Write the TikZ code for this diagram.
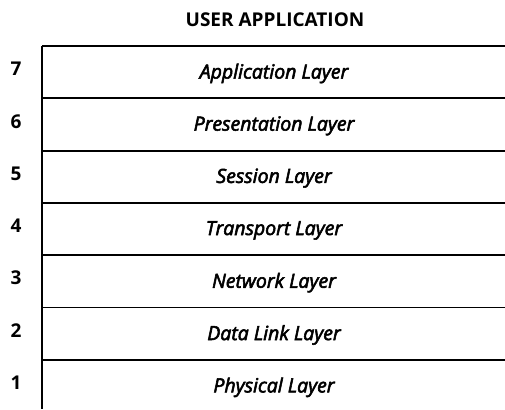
\documentclass[tikz,border=0pt]{standalone}
\usepackage{fontspec}
\setmainfont{Open Sans}
% slightly heavier italic: fill and stroke the glyph outlines
\newcommand{\heavytext}[1]{\special{pdf:literal 2 Tr 0.55 w}#1\special{pdf:literal 0 Tr}}
\begin{document}
\begin{tikzpicture}[x=1pt,y=-1pt,
  rule/.style={line width=1.8pt, black},
  layername/.style={font=\fontsize{19.5}{21}\selectfont\itshape, anchor=center, inner sep=0pt},
  layernum/.style={font=\fontsize{19}{21}\selectfont\bfseries, anchor=center, inner sep=0pt},
  heading/.style={font=\fontsize{19}{21}\selectfont\bfseries, anchor=center, inner sep=0pt}]
\useasboundingbox (0,0) rectangle (505,409);

\node[heading] (title) at (275,20) {USER APPLICATION};

% left edge of the stack, open at the bottom
\coordinate (top) at (42,46);
\coordinate (bottom) at (42,409);
\draw[line width=1.5pt] (top) -- (bottom);

% separating rules between the layers
\foreach \k in {0,...,6} {
  \coordinate (rl\k) at (42,46+52.3*\k);
  \coordinate (rr\k) at (505,46+52.3*\k);
  \draw[rule] (rl\k) -- (rr\k);
}

% layer numbers and names, top to bottom
\foreach \k/\n/\name in {0/7/Application Layer, 1/6/Presentation Layer,
    2/5/Session Layer, 3/4/Transport Layer, 4/3/Network Layer,
    5/2/Data Link Layer, 6/1/Physical Layer} {
  \node[layernum] (num\n) at (16,46+52.3*\k+23) {\n};
  \node[layername] (layer\n) at (274,46+52.3*\k+27.5) {\heavytext{\name}};
}
\end{tikzpicture}
\end{document}
